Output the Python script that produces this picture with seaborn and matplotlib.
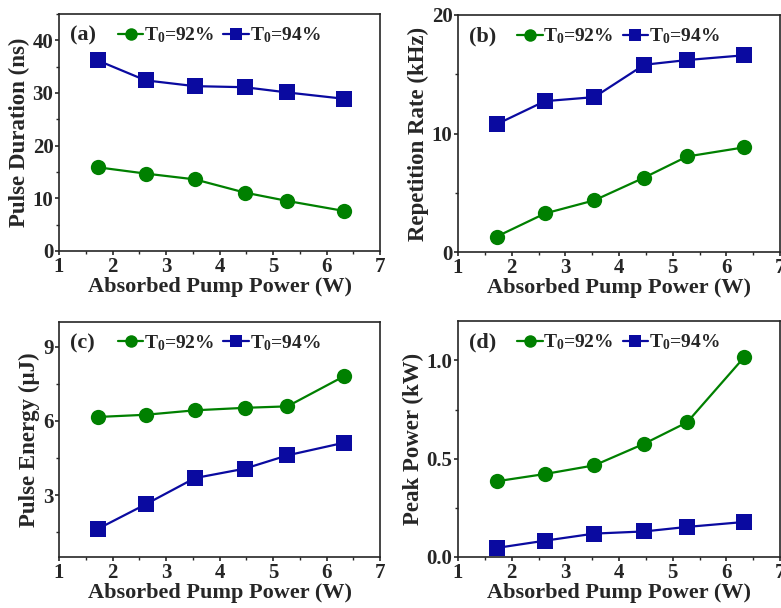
import matplotlib
matplotlib.use('Agg')
import matplotlib.pyplot as plt
import numpy as np
import pandas as pd
import seaborn as sns
from matplotlib.ticker import MultipleLocator

# absorbed pump power (W)
power = [1.72, 2.62, 3.54, 4.47, 5.27, 6.33]

dur_92 = [15.9, 14.7, 13.6, 11.1, 9.5, 7.6]
dur_94 = [36.2, 32.4, 31.3, 31.1, 30.1, 28.9]

rate_92 = [1.3, 3.25, 4.36, 6.28, 8.06, 8.83]
rate_94 = [10.78, 12.73, 13.07, 15.8, 16.2, 16.6]

energy_92 = [6.16, 6.25, 6.43, 6.53, 6.59, 7.81]
energy_94 = [1.63, 2.63, 3.69, 4.07, 4.61, 5.12]

peak_92 = [0.385, 0.422, 0.466, 0.576, 0.685, 1.015]
peak_94 = [0.046, 0.083, 0.119, 0.130, 0.153, 0.178]

labels = ['T$_0$=92%', 'T$_0$=94%']
panels = ['(a)', '(b)', '(c)', '(d)']
ylabels = ['Pulse Duration (ns)', 'Repetition Rate (kHz)',
           'Pulse Energy (\u03bcJ)', 'Peak Power (kW)']

sns.set_style('ticks')
plt.rcParams['font.family'] = ['Liberation Serif', 'DejaVu Serif']
plt.rcParams['font.weight'] = 'bold'
plt.rcParams['mathtext.fontset'] = 'custom'
plt.rcParams['mathtext.rm'] = 'Liberation Serif:bold'
plt.rcParams['mathtext.it'] = 'Liberation Serif:bold'
plt.rcParams['mathtext.bf'] = 'Liberation Serif:bold'

green = '#008000'
blue = '#0a0aa0'

fig = plt.figure(figsize=(7.81, 6.08), dpi=100)
W, H = 781, 608
boxes = [(59, 14, 380, 251), (458, 15, 780, 252),
         (59, 322, 380, 557), (458, 321, 780, 557)]
axes = [fig.add_axes([l / W, 1 - b / H, (r - l) / W, (b - t) / H]) for l, t, r, b in boxes]

series = [(dur_92, dur_94), (rate_92, rate_94), (energy_92, energy_94), (peak_92, peak_94)]
ylims = [(0, 45), (0, 20), (0.5, 10), (0, 1.2)]
ymajor = [10, 10, 3, 0.5]
yminor = [5, 5, 1.5, 0.25]

for i, ax in enumerate(axes):
    s92, s94 = series[i]
    df = pd.DataFrame({'power': power * 2,
                       'value': s92 + s94,
                       'T0': [labels[0]] * 6 + [labels[1]] * 6})
    sns.lineplot(data=df, x='power', y='value', hue='T0', style='T0',
                 palette=[green, blue], markers=['o', 's'], dashes=False,
                 markersize=11, linewidth=1.6, markeredgewidth=0, ax=ax)
    ax.set_xlim(1, 7)
    ax.set_ylim(*ylims[i])
    ax.xaxis.set_major_locator(MultipleLocator(1))
    ax.xaxis.set_minor_locator(MultipleLocator(0.5))
    ax.yaxis.set_major_locator(MultipleLocator(ymajor[i]))
    ax.yaxis.set_minor_locator(MultipleLocator(yminor[i]))
    if i == 2:
        ax.set_yticks([3, 6, 9])
    ax.tick_params(which='major', direction='out', length=3, width=1.2, labelsize=15, pad=1)
    ax.tick_params(which='minor', direction='out', length=2, width=1)
    for sp in ax.spines.values():
        sp.set_linewidth(1.2)
    ax.set_xlabel('Absorbed Pump Power (W)', fontsize=16, fontweight='bold', labelpad=0)
    ax.set_ylabel(ylabels[i], fontsize=16.5, fontweight='bold', labelpad=2)
    for lab in ax.get_xticklabels() + ax.get_yticklabels():
        lab.set_fontweight('bold')
    ax.text(0.035, 0.91, panels[i], transform=ax.transAxes, fontsize=16,
            fontweight='bold', va='center', ha='left')
    leg = ax.legend(loc='center left', bbox_to_anchor=(0.184, 0.91), ncol=2,
                    frameon=False, fontsize=14, handlelength=1.3, handletextpad=0.05,
                    columnspacing=0.45, borderaxespad=0, borderpad=0)
    for h in leg.legend_handles:
        h.set_markersize(9)

fig.savefig('out.png', dpi=100)
